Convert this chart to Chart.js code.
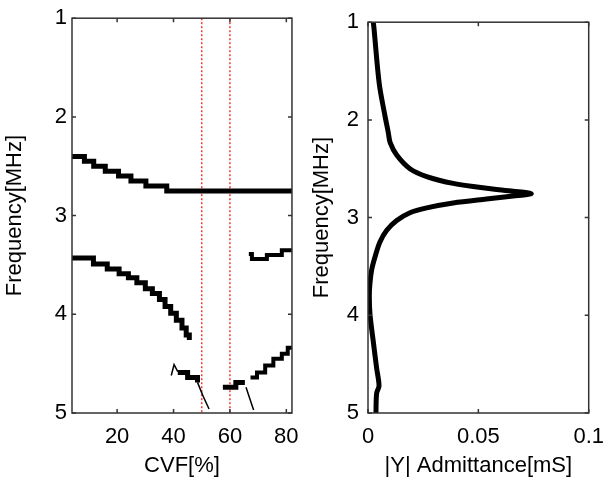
<!DOCTYPE html>
<html>
<head>
<meta charset="utf-8">
<script src="https://cdn.jsdelivr.net/npm/chart.js@4.4.1/dist/chart.umd.min.js"></script>
<style>
  html, body { margin: 0; padding: 0; background: #fff; }
  #wrap { position: relative; width: 615px; height: 480px; }
  .panel { position: absolute; top: 0; height: 480px; }
  #left { left: 0; width: 310px; }
  #right { left: 310px; width: 305px; }
</style>
</head>
<body>
<div id="wrap">
  <div class="panel" id="left"><canvas id="cvfChart" width="310" height="480"></canvas></div>
  <div class="panel" id="right"><canvas id="admChart" width="305" height="480"></canvas></div>
</div>
<script>
// tick labels
const freqTicks = [1, 2, 3, 4, 5];
const cvfTicks = [20, 40, 60, 80];
const admTicks = [0, 0.05, 0.1];

// left panel: resonance frequency vs CVF (stepped branches)
const cvfA = [4, 8.4, 11.7, 15.8, 20.5, 24.9, 30.2, 37.6, 82];
const freqA = [2.40, 2.45, 2.50, 2.55, 2.60, 2.65, 2.70, 2.75, 2.75];

const cvfB = [4, 11.6, 16.5, 20.7, 24, 27, 30, 32.5, 35, 37, 39, 41, 43, 44.5, 45.6];
const freqB = [3.43, 3.49, 3.54, 3.59, 3.63, 3.68, 3.74, 3.79, 3.85, 3.92, 3.99, 4.06, 4.14, 4.21, 4.26];

const cvfC = [41.5, 45, 48.5];
const freqC = [4.59, 4.64, 4.69];
const cvfCstart = [39.2, 40.2, 41.5];
const freqCstart = [4.62, 4.51, 4.58];
const cvfCtail = [48.5, 50.5, 52.6];
const freqCtail = [4.69, 4.83, 4.96];

const cvfD = [57.5, 62.1, 65.3];
const freqD = [4.74, 4.69, 4.69];
const cvfDtail = [65.7, 67, 68.4];
const freqDtail = [4.74, 4.85, 4.97];

const cvfE = [67.3, 69.6, 72.5, 75.4, 78.4, 80.5, 82];
const freqE = [4.64, 4.59, 4.52, 4.45, 4.40, 4.34, 4.34];

const cvfF = [66.7, 67.8, 73.1, 78.4, 82];
const freqF = [3.39, 3.44, 3.40, 3.35, 3.35];

const markerCvf = [50, 60];

// right panel: |Y| admittance vs frequency
const admFreq = [1, 1.06, 1.63, 1.96, 2.13, 2.23, 2.36, 2.50, 2.58, 2.65, 2.70, 2.73, 2.755,
  2.78, 2.81, 2.85, 2.90, 2.95, 3.03, 3.13, 3.25, 3.40, 3.53, 3.67, 3.80, 3.99, 4.27, 4.54, 4.72, 4.80, 5];
const admValue = [0.0024, 0.0027, 0.0051, 0.0077, 0.0092, 0.0100, 0.0130, 0.0190, 0.0266, 0.0386, 0.0537, 0.0658, 0.0740,
  0.0658, 0.0537, 0.0386, 0.0266, 0.0190, 0.0130, 0.0085, 0.0054, 0.0032, 0.0017, 0.0009, 0.0006, 0.0009, 0.0024, 0.0039, 0.0050, 0.0039, 0.0036];

const FONT = "'Liberation Sans', Arial, sans-serif";
const FS = 22;
const pts = (xs, ys) => xs.map((x, i) => ({ x: x, y: ys[i] }));

// MATLAB style box with inward ticks
const boxPlugin = {
  id: 'box',
  afterDraw(chart) {
    const { ctx, chartArea: a, scales } = chart;
    ctx.save();
    ctx.strokeStyle = '#333';
    ctx.lineWidth = 1.5;
    ctx.strokeRect(a.left, a.top, a.right - a.left, a.bottom - a.top);
    ctx.beginPath();
    scales.x.ticks.forEach(t => {
      const px = scales.x.getPixelForValue(t.value);
      ctx.moveTo(px, a.bottom); ctx.lineTo(px, a.bottom - 4);
      ctx.moveTo(px, a.top); ctx.lineTo(px, a.top + 4);
    });
    scales.y.ticks.forEach(t => {
      const py = scales.y.getPixelForValue(t.value);
      ctx.moveTo(a.left, py); ctx.lineTo(a.left + 4, py);
      ctx.moveTo(a.right, py); ctx.lineTo(a.right - 4, py);
    });
    ctx.stroke();
    ctx.restore();
  }
};

function baseScales(xMin, xMax, xTickVals, xTitle, yTitlePad, yTickPad, yWidth) {
  return {
    x: {
      type: 'linear', min: xMin, max: xMax,
      afterBuildTicks: s => { s.ticks = xTickVals.map(v => ({ value: v })); },
      afterFit: s => { s.height = 66; },
      grid: { display: false, drawTicks: false },
      border: { display: false },
      ticks: { color: '#000', font: { family: FONT, size: FS }, padding: 11, maxRotation: 0,
        callback: v => String(v) },
      title: { display: true, text: xTitle, color: '#000', font: { family: FONT, size: FS }, padding: { top: 0, bottom: 0 } }
    },
    y: {
      type: 'linear', min: 1, max: 5, reverse: true,
      afterBuildTicks: s => { s.ticks = freqTicks.map(v => ({ value: v })); },
      afterFit: s => { s.width = yWidth; },
      grid: { display: false, drawTicks: false },
      border: { display: false },
      ticks: { color: '#000', font: { family: FONT, size: FS }, padding: yTickPad },
      title: { display: true, text: 'Frequency[MHz]', color: '#000', font: { family: FONT, size: FS }, padding: { top: yTitlePad, bottom: 0 } }
    }
  };
}

const thick = (xs, ys, w) => ({ data: pts(xs, ys), showLine: true, stepped: 'before', borderColor: '#000',
  borderWidth: w, pointRadius: 0, borderCapStyle: 'butt' });
const thin = (xs, ys) => ({ data: pts(xs, ys), showLine: true, borderColor: '#000', borderWidth: 1.5, pointRadius: 0 });

const leftSets = [
  thick(cvfA, freqA, 5),
  thick(cvfB, freqB, 5),
  thick(cvfC, freqC, 5),
  thin(cvfCstart, freqCstart),
  thin(cvfCtail, freqCtail),
  thick(cvfD, freqD, 5),
  thin(cvfDtail, freqDtail),
  thick(cvfE, freqE, 4),
  thick(cvfF, freqF, 4)
];
markerCvf.forEach(v => {
  leftSets.push({ data: [{ x: v, y: 1 }, { x: v, y: 5 }], showLine: true, borderColor: 'rgba(255,0,0,0.8)',
    borderWidth: 1.5, borderDash: [2, 2], pointRadius: 0 });
});

new Chart(document.getElementById('cvfChart'), {
  type: 'scatter',
  data: { datasets: leftSets },
  options: {
    responsive: false, animation: false,
    layout: { padding: { left: 0, top: 14, right: 17, bottom: 1 } },
    plugins: { legend: { display: false }, tooltip: { enabled: false } },
    scales: baseScales(4, 82, cvfTicks, 'CVF[%]', 2, 5, 72)
  },
  plugins: [boxPlugin]
});

new Chart(document.getElementById('admChart'), {
  type: 'scatter',
  data: {
    datasets: [{ data: pts(admValue, admFreq), showLine: true, borderColor: '#000', borderWidth: 5,
      pointRadius: 0, tension: 0.3 }]
  },
  options: {
    responsive: false, animation: false,
    layout: { padding: { left: 0, top: 14, right: 26, bottom: 1 } },
    plugins: { legend: { display: false }, tooltip: { enabled: false } },
    scales: baseScales(0, 0.1, admTicks, '|Y| Admittance[mS]', -1, 9, 58)
  },
  plugins: [boxPlugin]
});
</script>
</body>
</html>
